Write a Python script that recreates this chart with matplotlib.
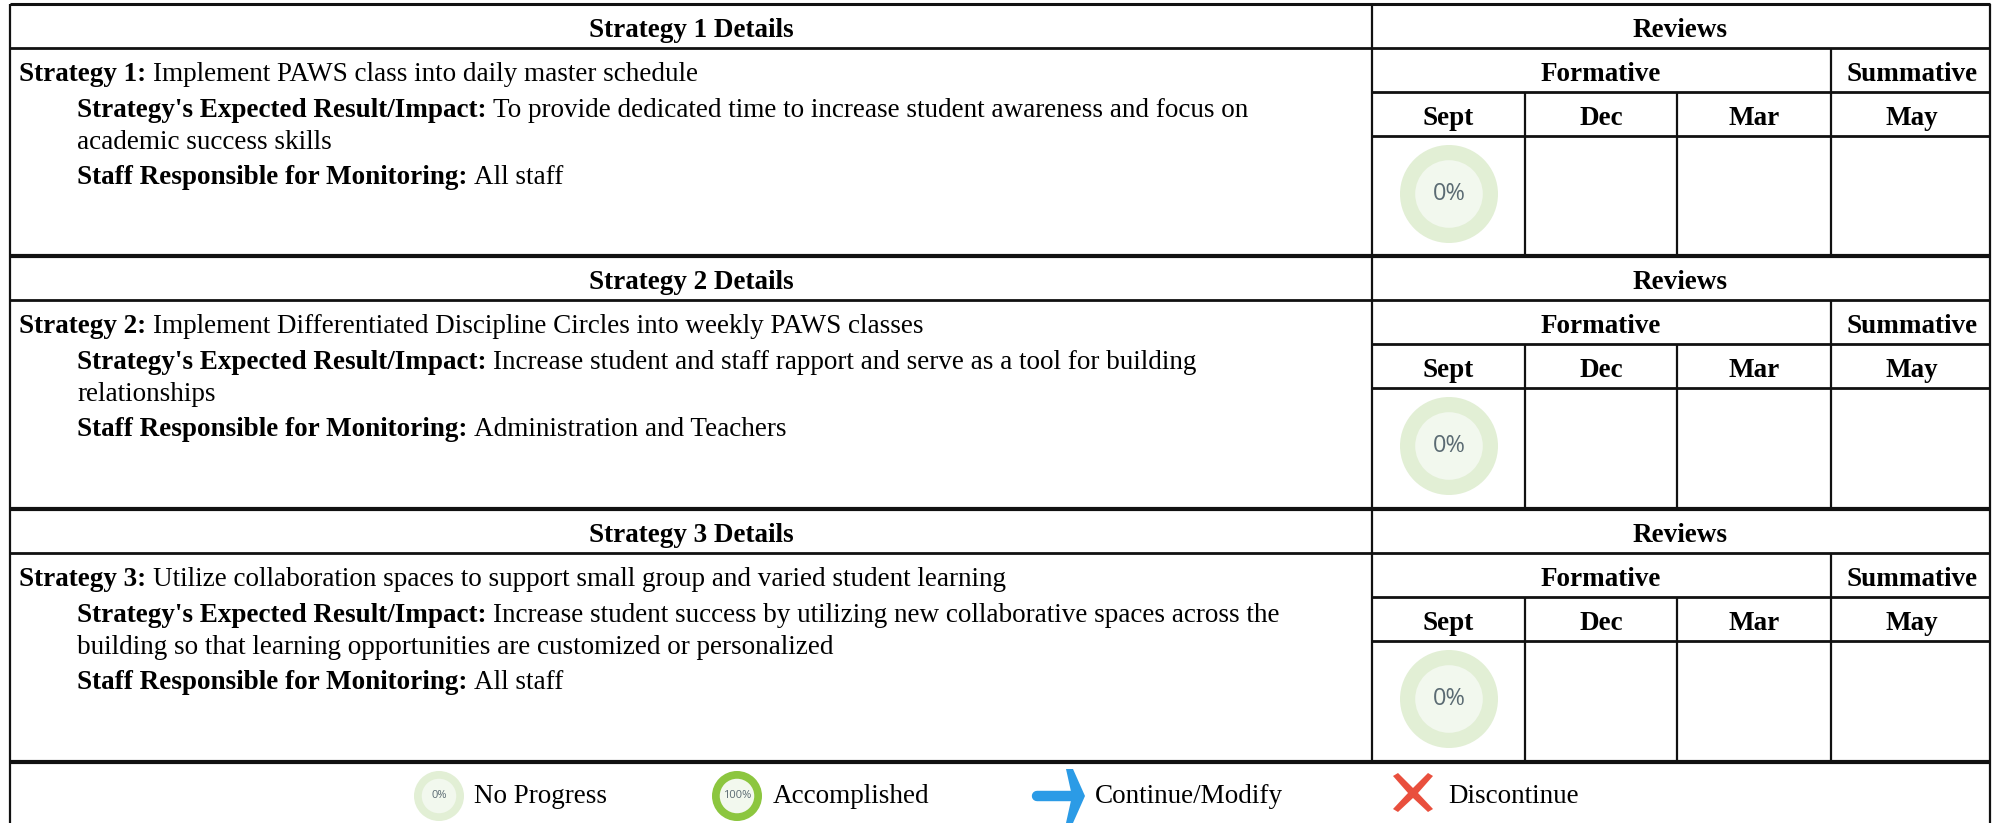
import matplotlib
matplotlib.use('Agg')
import matplotlib.pyplot as plt
from matplotlib.patches import Circle, Polygon

W, H = 1993, 823
FS = 19.5

plt.rcParams['font.family'] = ['Liberation Serif', 'DejaVu Serif']

strategy_nums = ['1', '2', '3']
strategy_text = [
    'Implement PAWS class into daily master schedule',
    'Implement Differentiated Discipline Circles into weekly PAWS classes',
    'Utilize collaboration spaces to support small group and varied student learning',
]
impact_lines = [
    ['To provide dedicated time to increase student awareness and focus on', 'academic success skills'],
    ['Increase student and staff rapport and serve as a tool for building', 'relationships'],
    ['Increase student success by utilizing new collaborative spaces across the',
     'building so that learning opportunities are customized or personalized'],
]
staff = ['All staff', 'Administration and Teachers', 'All staff']
months = ['Sept', 'Dec', 'Mar', 'May']
sept_progress = ['0%', '0%', '0%']
legend_labels = ['No Progress', 'Accomplished', 'Continue/Modify', 'Discontinue']

fig = plt.figure(figsize=(W / 100, H / 100), dpi=100)
ax = fig.add_axes([0, 0, 1, 1])
ax.set_xlim(0, W)
ax.set_ylim(H, 0)
ax.axis('off')

LEFT, MID, RIGHT = 10, 1372, 1990
COLS = [1372, 1525, 1677, 1831, 1993]
TOPS = [4, 256, 509]
BOTTOMS = [256, 509, 762]
LINE = '#111111'


def hline(x0, x1, y, lw=2.0):
    ax.plot([x0, x1], [y, y], color=LINE, lw=lw, solid_capstyle='butt')


def vline(x, y0, y1, lw=1.6):
    ax.plot([x, x], [y0, y1], color=LINE, lw=lw, solid_capstyle='butt')


def put(x, y, s, bold=False, ha='left'):
    return ax.text(x, y, s, fontsize=FS, fontweight='bold' if bold else 'normal',
                   ha=ha, va='baseline', color='black')


def bold_then_plain(x, y, head, rest):
    t = put(x, y, head, bold=True)
    box = t.get_window_extent(fig.canvas.get_renderer())
    put(box.x1 + 7, y, rest)


def ring(cx, cy, r, outer, inner, label, size, color='#5b6b73'):
    ax.add_patch(Circle((cx, cy), r, fc=outer, ec='none'))
    ax.add_patch(Circle((cx, cy), r * 0.69, fc=inner, ec='none'))
    ax.text(cx, cy, label, fontsize=size, ha='center', va='center', color=color,
            family=['Open Sans', 'DejaVu Sans'])


for i in range(3):
    top = TOPS[i]
    bot = BOTTOMS[i]
    y1, y2, y3 = top + 44, top + 88, top + 132
    hline(LEFT, RIGHT, top, lw=2.2 if i == 0 else 3.0)
    hline(LEFT, RIGHT, y1)
    hline(MID, RIGHT, y2)
    hline(MID, RIGHT, y3)
    vline(COLS[3], y1, bot)
    vline(COLS[1], y2, bot)
    vline(COLS[2], y2, bot)

    put((LEFT + MID) / 2 + 0, top + 33, 'Strategy %s Details' % strategy_nums[i], bold=True, ha='center')
    put((MID + RIGHT) / 2 - 1, top + 33, 'Reviews', bold=True, ha='center')
    put((COLS[0] + COLS[3]) / 2 - 1, top + 77, 'Formative', bold=True, ha='center')
    put((COLS[3] + COLS[4]) / 2, top + 77, 'Summative', bold=True, ha='center')
    for j, m in enumerate(months):
        put((COLS[j] + COLS[j + 1]) / 2, top + 121, m, bold=True, ha='center')

    bold_then_plain(19, top + 77, 'Strategy %s:' % strategy_nums[i], strategy_text[i])
    bold_then_plain(77, top + 113, "Strategy's Expected Result/Impact:", impact_lines[i][0])
    put(77, top + 145, impact_lines[i][1])
    bold_then_plain(77, top + 180, 'Staff Responsible for Monitoring:', staff[i])

    ring(1449, top + 190, 49, '#e2efd5', '#f2f8ee', sept_progress[i], 17)

hline(LEFT, RIGHT, BOTTOMS[2], lw=3.0)
vline(LEFT, 4, H)
vline(MID, 4, BOTTOMS[2])
vline(RIGHT, 4, H)

ring(439, 796, 25, '#e2efd5', '#f2f8ee', '0%', 8)
ring(737, 796, 25, '#8cc63f', '#f2f8ee', '100%', 8)

# arrow and cross icons of the legend
ax.plot([1037, 1072], [796, 796], color='#2b9be6', lw=7.5, solid_capstyle='round')
ax.add_patch(Polygon([[1066, 769], [1073, 769], [1085, 796], [1073, 823], [1066, 823], [1072, 796]],
                     closed=True, fc='#2b9be6', ec='none'))
ax.add_patch(Polygon([[1393, 776], [1398, 773], [1413, 788], [1428, 773], [1433, 776], [1418, 793],
                      [1433, 809], [1428, 812], [1413, 798], [1398, 812], [1393, 809], [1408, 793]],
                     closed=True, fc='#e94f3d', ec='none'))

for x, s in zip([474, 773, 1095, 1448], legend_labels):
    put(x, 803, s)

fig.savefig('out.png', dpi=100, facecolor='white')
